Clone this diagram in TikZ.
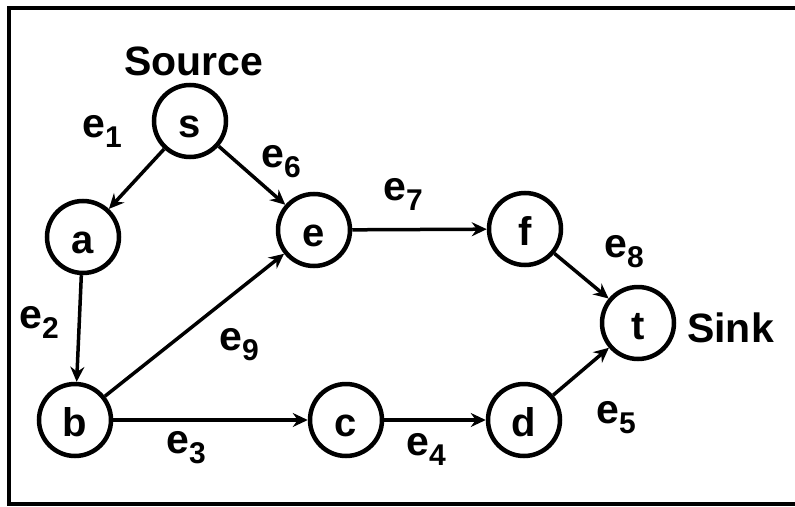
\documentclass[tikz,border=0pt]{standalone}
\usepackage{fontspec}
\setmainfont{Liberation Sans}
\usetikzlibrary{arrows.meta}
\newcommand{\elab}[1]{e\raisebox{-10pt}{\fontsize{30}{30}\selectfont #1}}
\begin{document}
\begin{tikzpicture}[x=1pt,y=-1pt,
  vertex/.style={circle,draw,line width=4.5pt,minimum size=72pt,inner sep=0pt,
    text height=33pt,text depth=0pt,
    font=\fontsize{40}{40}\selectfont\bfseries},
  txt/.style={anchor=base west,inner sep=0pt,font=\fontsize{41}{41}\selectfont\bfseries},
  edge/.style={line width=3.5pt,-{Stealth[length=15pt,width=14pt,inset=5pt]}}]
\useasboundingbox (0,0) rectangle (795,506);
% frame
\draw[line width=4pt] (795,8) -- (8.5,8) -- (8.5,503.5) -- (795,503.5);
% vertices
\node[vertex] (s) at (190,121) {s};
\node[vertex] (a) at (83,237) {a};
\node[vertex] (e) at (314,230) {e};
\node[vertex] (f) at (525,229) {f};
\node[vertex] (t) at (638,323) {t};
\node[vertex] (b) at (75,420) {b};
\node[vertex] (c) at (346,420) {c};
\node[vertex] (d) at (524,420) {d};
% edges
\draw[edge] (s) -- (a);
\draw[edge] (s) -- (e);
\draw[edge] (a) -- (b);
\draw[edge] (b) -- (e);
\draw[edge] (b) -- (c);
\draw[edge] (e) -- (f);
\draw[edge] (c) -- (d);
\draw[edge] (d) -- (t);
\draw[edge] (f) -- (t);
% labels
\node[txt] (lsrc) at (124,75) {Source};
\node[txt] (lsnk) at (687,342) {Sink};
\node[txt] (l1) at (82,137) {\elab{1}};
\node[txt] (l2) at (19,328) {\elab{2}};
\node[txt] (l3) at (166,453) {\elab{3}};
\node[txt] (l4) at (406,455) {\elab{4}};
\node[txt] (l5) at (596,423) {\elab{5}};
\node[txt] (l6) at (261,167) {\elab{6}};
\node[txt] (l7) at (383,200) {\elab{7}};
\node[txt] (l8) at (604,257) {\elab{8}};
\node[txt] (l9) at (219,350) {\elab{9}};
\end{tikzpicture}
\end{document}
